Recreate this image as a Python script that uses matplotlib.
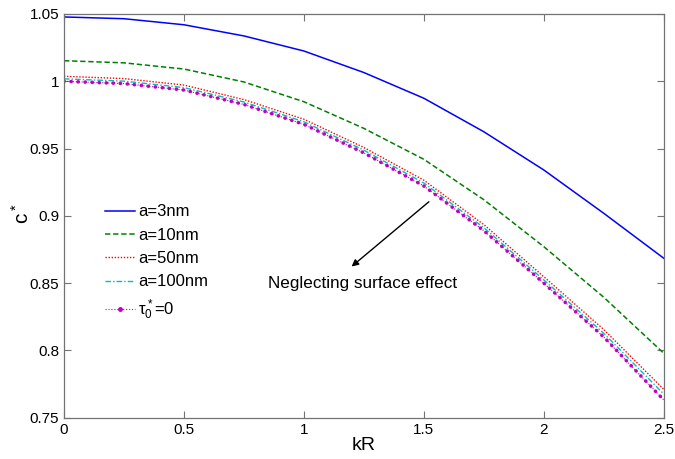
import numpy as np
from matplotlib import pyplot as plt
from matplotlib.lines import Line2D

# values at kR = 0, 0.25, ..., 2.5
kR = [0.0, 0.25, 0.5, 0.75, 1.0, 1.25, 1.5, 1.75, 2.0, 2.25, 2.5]
c_a3 = [1.0478, 1.0465, 1.0420, 1.0337, 1.0225, 1.0065, 0.9874, 0.9625, 0.9341, 0.9019, 0.8685]
c_a10 = [1.0153, 1.0137, 1.0091, 0.9995, 0.9848, 0.9650, 0.9420, 0.9120, 0.8771, 0.8395, 0.7979]
c_a50 = [1.0037, 1.0020, 0.9972, 0.9864, 0.9718, 0.9508, 0.9265, 0.8935, 0.8548, 0.8155, 0.7711]
c_a100 = [1.0018, 1.0001, 0.9953, 0.9846, 0.9699, 0.9488, 0.9244, 0.8912, 0.8524, 0.8127, 0.7676]
c_tau0 = [1.0000, 0.9983, 0.9935, 0.9828, 0.9680, 0.9468, 0.9222, 0.8890, 0.8500, 0.8100, 0.7632]

labels = ['a=3nm', 'a=10nm', 'a=50nm', 'a=100nm', r'$\tau_0^*$=0']
xticks = [0, 0.5, 1, 1.5, 2, 2.5]
xtick_labels = ['0', '0.5', '1', '1.5', '2', '2.5']
yticks = [0.75, 0.8, 0.85, 0.9, 0.95, 1.0, 1.05]
ytick_labels = ['0.75', '0.8', '0.85', '0.9', '0.95', '1', '1.05']

plt.rcParams['font.family'] = ['Liberation Sans', 'DejaVu Sans']
plt.rcParams['mathtext.fontset'] = 'custom'
plt.rcParams['mathtext.rm'] = 'Liberation Sans'
plt.rcParams['mathtext.it'] = 'Liberation Sans'

fig = plt.figure(figsize=(6.75, 4.59), dpi=100)
ax = fig.add_axes([0.0948, 0.09, 0.8885, 0.8795])

ax.plot(kR, c_a3, color=(0, 0, 1), lw=1.1, ls='-', label=labels[0])
ax.plot(kR, c_a10, color=(0, 0.5, 0), lw=1.1, ls=(0, (3.5, 1.8)), label=labels[1])
ax.plot(kR, c_a50, color=(1, 0, 0), lw=1.0, ls=(0, (1, 1.2)), label=labels[2])
ax.plot(kR, c_a100, color=(0, 0.75, 0.75), lw=1.0, ls=(0, (4, 1.5, 1, 1.5)), label=labels[3])
# dense dot look of the marker curve
ax.plot(kR, c_tau0, color=(0.75, 0, 0.75), lw=2.6, ls=(0, (0.05, 1.9)),
        dash_capstyle='round')
ax.plot(kR, c_tau0, color=(0.75, 0, 0.75), lw=0.8, ls=':', label=labels[4])

handles, hl = ax.get_legend_handles_labels()
handles[-1] = Line2D([], [], color=(0.75, 0, 0.75), lw=0.8, ls=':', marker='.', markersize=5)
ax.legend(handles, hl, loc='upper left', bbox_to_anchor=(0.058, 0.545), frameon=False,
          fontsize=12, handlelength=1.75, handletextpad=0.2, labelspacing=0.5,
          borderaxespad=0, numpoints=1)

ax.annotate('', xy=(1.19, 0.861), xytext=(1.53, 0.9118),
            arrowprops=dict(arrowstyle='-|>', color='black', lw=1.0, mutation_scale=10))
ax.text(0.85, 0.850, 'Neglecting surface effect', fontsize=12.3, va='center', ha='left')

ax.set_xlim(0, 2.5)
ax.set_ylim(0.75, 1.05)
ax.set_xticks(xticks)
ax.set_xticklabels(xtick_labels)
ax.set_yticks(yticks)
ax.set_yticklabels(ytick_labels)
ax.tick_params(direction='in', top=True, right=True, labelsize=11, length=5,
               color='0.45', width=0.8)
for s in ax.spines.values():
    s.set_color('0.45')
    s.set_linewidth(0.9)

ax.set_xlabel('kR', fontsize=14, labelpad=0)
ax.set_ylabel('c$^*$', fontsize=15)
ax.yaxis.set_label_coords(-0.052, 0.505)

plt.savefig('out.png', dpi=100)
